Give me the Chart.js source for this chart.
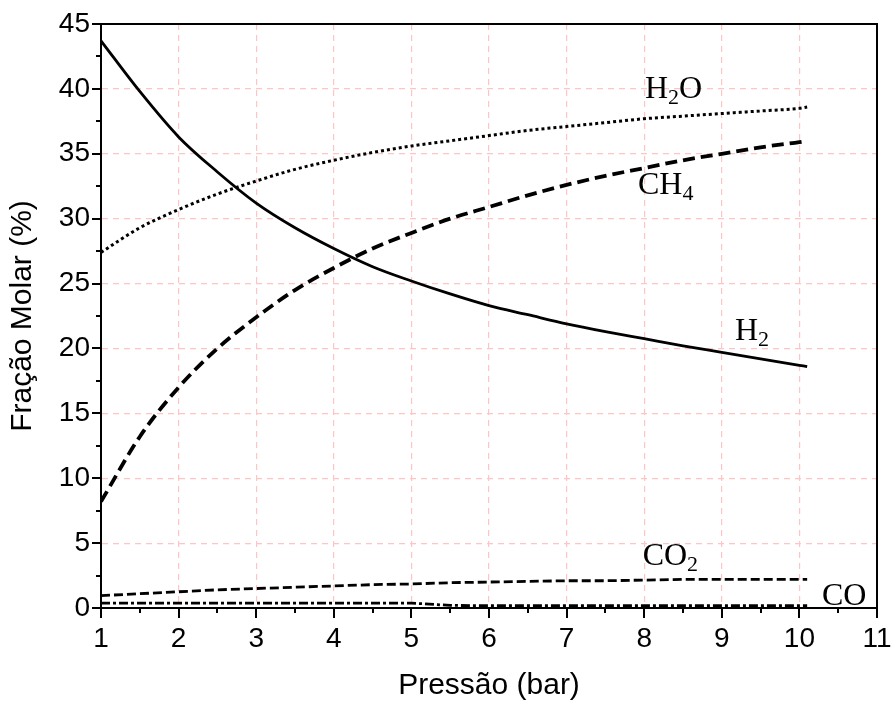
<!DOCTYPE html>
<html>
<head>
<meta charset="utf-8">
<script src="https://cdn.jsdelivr.net/npm/chart.js@4.4.0/dist/chart.umd.min.js"></script>
<style>
html,body{margin:0;padding:0;background:#fff;}
#wrap{width:893px;height:706px;}
</style>
</head>
<body>
<div id="wrap"><canvas id="c" width="893" height="706"></canvas></div>
<script>
// ---- data ----
const pressure = [1, 1.5, 2, 2.5, 3, 3.5, 4, 4.5, 5, 5.5, 6, 6.5, 7, 7.5, 8, 8.5, 9, 9.5, 10, 10.1];
const h2  = [43.7, 39.8, 36.3, 33.6, 31.2, 29.3, 27.7, 26.3, 25.2, 24.2, 23.3, 22.6, 21.9, 21.3, 20.75, 20.2, 19.7, 19.2, 18.7, 18.6];
const h2o = [27.4, 29.3, 30.7, 31.9, 32.9, 33.8, 34.5, 35.1, 35.6, 36.0, 36.4, 36.8, 37.1, 37.4, 37.7, 37.9, 38.1, 38.3, 38.5, 38.6];
const ch4 = [8.2, 13.2, 17.0, 20.0, 22.4, 24.5, 26.2, 27.7, 28.9, 30.0, 30.9, 31.8, 32.6, 33.3, 33.9, 34.5, 35.0, 35.5, 35.9, 36.0];
const co2 = [0.95, 1.1, 1.25, 1.4, 1.5, 1.6, 1.7, 1.8, 1.85, 1.95, 2.0, 2.05, 2.1, 2.1, 2.15, 2.2, 2.2, 2.2, 2.2, 2.2];
const co  = [0.38, 0.38, 0.38, 0.38, 0.38, 0.38, 0.38, 0.38, 0.38, 0.2, 0.18, 0.18, 0.18, 0.18, 0.18, 0.18, 0.18, 0.18, 0.18, 0.18];

const xTitle = 'Pressão (bar)';
const yTitle = 'Fração Molar (%)';
// curve labels: [main, subscript, tail, x, y] in data units
const curveLabels = [
  ['H', '2', 'O', 8.01, 39.3],
  ['CH', '4', '', 7.92, 31.9],
  ['H', '2', '', 9.17, 20.65],
  ['CO', '2', '', 7.98, 3.31],
  ['CO', '', '', 10.29, 0.23]
];

const pts = arr => pressure.map((p, i) => ({x: p, y: arr[i]}));

const decor = {
  id: 'decor',
  afterDraw(chart) {
    const {ctx, chartArea: a, scales: {x, y}} = chart;
    ctx.save();
    ctx.strokeStyle = '#000';
    ctx.lineWidth = 2;
    ctx.beginPath();
    ctx.moveTo(a.left, a.top); ctx.lineTo(a.right, a.top); ctx.lineTo(a.right, a.bottom);
    ctx.stroke();
    ctx.lineWidth = 2;
    ctx.beginPath();
    for (let v = 0; v <= 45.001; v += 2.5) {
      const py = Math.round(y.getPixelForValue(v));
      const len = (Math.abs(v % 5) < 0.01) ? 9 : 5;
      ctx.moveTo(a.left - len, py); ctx.lineTo(a.left, py);
    }
    for (let v = 1; v <= 11.001; v += 0.5) {
      const px = Math.round(x.getPixelForValue(v));
      const len = (Math.abs(v % 1) < 0.01) ? 10 : 5;
      ctx.moveTo(px, a.bottom); ctx.lineTo(px, a.bottom + len);
    }
    ctx.stroke();
    // curve labels
    ctx.fillStyle = '#000';
    ctx.textBaseline = 'alphabetic';
    ctx.textAlign = 'left';
    curveLabels.forEach(([m, s, t, lx, ly]) => {
      let px = x.getPixelForValue(lx), py = y.getPixelForValue(ly);
      ctx.font = '32px "Liberation Serif", "Times New Roman", serif';
      ctx.fillText(m, px, py); px += ctx.measureText(m).width;
      if (s) {
        ctx.font = '22px "Liberation Serif", "Times New Roman", serif';
        ctx.fillText(s, px, py + 6); px += ctx.measureText(s).width;
      }
      if (t) {
        ctx.font = '32px "Liberation Serif", "Times New Roman", serif';
        ctx.fillText(t, px, py);
      }
    });
    ctx.restore();
  }
};

const gridPink = '#ffc4c4';
const sans = '"Liberation Sans", Arial, sans-serif';
new Chart(document.getElementById('c'), {
  type: 'line',
  data: {
    datasets: [
      {label: 'H2', data: pts(h2), borderColor: '#000', borderWidth: 2.8, pointRadius: 0, cubicInterpolationMode: 'monotone', fill: false},
      {label: 'H2O', data: pts(h2o), borderColor: '#000', borderWidth: 3, borderDash: [3, 3], pointRadius: 0, cubicInterpolationMode: 'monotone', fill: false},
      {label: 'CH4', data: pts(ch4), borderColor: '#000', borderWidth: 3.8, borderDash: [12, 6], pointRadius: 0, cubicInterpolationMode: 'monotone', fill: false},
      {label: 'CO2', data: pts(co2), borderColor: '#000', borderWidth: 2.8, borderDash: [9, 4], pointRadius: 0, tension: 0, fill: false},
      {label: 'CO', data: pts(co), borderColor: '#000', borderWidth: 2.8, borderDash: [9, 3, 3, 3], pointRadius: 0, tension: 0, fill: false}
    ]
  },
  options: {
    responsive: false,
    animation: false,
    layout: {padding: {left: 0, top: 24, right: 16, bottom: 0}},
    plugins: {legend: {display: false}, tooltip: {enabled: false}},
    scales: {
      x: {
        type: 'linear', min: 1, max: 11,
        ticks: {stepSize: 1, color: '#000', padding: 14, font: {family: sans, size: 28}, maxRotation: 0},
        grid: {color: gridPink, lineWidth: 1.2, drawTicks: false},
        border: {color: '#000', width: 2, dash: [6, 5]},
        title: {display: true, text: xTitle, color: '#000', font: {family: sans, size: 30}, padding: {top: 0, bottom: 2}},
        afterFit(s) { s.height = 98; s.paddingLeft = 0; s.paddingRight = 0; }
      },
      y: {
        min: 0, max: 45,
        ticks: {stepSize: 5, color: '#000', padding: 11, font: {family: sans, size: 28}},
        grid: {color: gridPink, lineWidth: 1.2, drawTicks: false},
        border: {color: '#000', width: 2, dash: [6, 5]},
        title: {display: true, text: yTitle, color: '#000', font: {family: sans, size: 30}, padding: {top: 5, bottom: 0}},
        afterFit(s) { s.width = 101; s.paddingTop = 0; s.paddingBottom = 0; }
      }
    }
  },
  plugins: [decor]
});
</script>
</body>
</html>
